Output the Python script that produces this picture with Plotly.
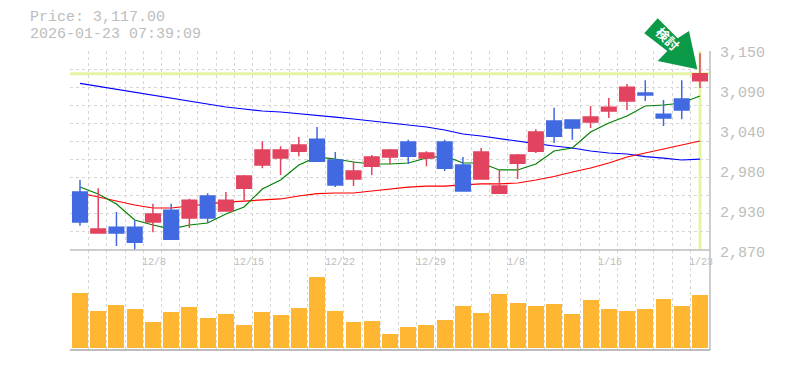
import plotly.graph_objects as go

W, H = 785, 370
L, R, T, B, MID = 70, 710, 51, 350, 250

# Candles
opens = [2951.6,2894,2902,2902,2909.4,2926,2915,2946,2925,2957,2989.6,2999.4,3009,3026,2996.6,2970,2988,3001,3022,2999.4,3022,2989.6,2970,2950,2992,3009,3051.5,3053,3050,3065.6,3079.6,3091,3061,3082.5,3108]
closes = [2909.4,2899.5,2894,2881,2920.6,2885,2940,2915,2940,2974,3010.7,3010.7,3017.7,2995,2961.5,2981,3001,3010.7,3002,3006.5,2985,2953,3008,2960,3003.7,3036,3030,3041.6,3057,3071,3099,3088,3055.7,3067,3118]
highs = [2968.5,2957,2923.5,2912,2935,2935,2942,2950,2951.6,2975.5,3023,3016,3029,3043,3008,2995,3003.7,3012,3025,3009,3025,3001,3013.5,2982.6,3005,3040,3070,3053,3072.6,3084,3103.6,3109,3081,3109,3147]
lows = [2904,2894,2875.6,2869,2895,2884.5,2901,2908,2925,2940,2985,2975.5,3002,2995,2958.6,2960,2975.5,2991,2991,2988,2981,2953,2970,2949,2970,3006.5,3020.5,3025,3041.6,3055.7,3067,3079.6,3044.5,3054,3098]

# Moving averages
ma_short = [2958.6,2948.8,2934.7,2912.2,2905.2,2899.5,2905.2,2908,2920.7,2930.5,2955.8,2968.5,2989.6,3000.9,2998,2993.8,2991,2991,2992.4,2999.4,3002.3,2992.4,2992.4,2982.6,2982.6,2991,3009.3,3013.5,3036,3048.7,3058.5,3072.6,3074,3076.8,3086.7]
ma_mid = [2950.2,2944.6,2938.9,2933.3,2929.1,2929.1,2931.9,2934.7,2937.5,2938.9,2940.4,2941.8,2946,2949.2,2950.2,2950.2,2953,2955.8,2958.6,2960,2960,2961.5,2962.9,2963.1,2964.3,2968.5,2973.4,2979.7,2985.4,2992.4,3000.9,3006.5,3012.1,3017.7,3023.4]
ma_long = [3104.5,3100.3,3095.5,3092.3,3087.1,3083.9,3079.6,3075.4,3071.2,3068.4,3065.6,3064.2,3062.1,3059.5,3057.1,3054.3,3051.5,3049.1,3045.9,3043.1,3038.8,3033.2,3030.4,3026.6,3022.4,3019.6,3016.3,3013.5,3009.3,3006.5,3005.1,3001.3,2999.4,2996.6,2998]

# Volume (relative)
volumes = [55,37,43,39,26,36,41,30,34,23,36,33,40,71,37,26,27,14,21,23,28,42,35,54,45,42,44,34,48,39,37,39,49,42,53]

# Labels
price_labels = ["3,150","3,090","3,040","2,980","2,930","2,870"]
date_labels = ["12/8","12/15","12/22","12/29","1/8","1/16","1/23"]
date_index = [4,9,14,19,24,29,34]
title_lines = ["Price: 3,117.00","2026-01-23 07:39:09"]
badge_text = "検討"
last_price = 3118

idx = list(range(len(opens)))
GRAY = "#bdbdbd"; GRID = "#d6d6d6"; LIME = "#e4f5a5"; MONO = "Liberation Mono"
DASH = "3px,3px"
def px(x): return (x-L)/(R-L)
def py(y): return (B-y)/(B-T)

fig = go.Figure()
for vals, col in [(ma_long,"#0000ff"),(ma_mid,"#ff0000"),(ma_short,"#008000")]:
    fig.add_trace(go.Scatter(x=idx,y=vals,mode="lines",line=dict(color=col,width=1.2),xaxis="x",yaxis="y",hoverinfo="skip",showlegend=False))
fig.add_trace(go.Bar(x=idx,y=volumes,marker=dict(color="#ffb733",line_width=0),width=0.875,xaxis="x2",yaxis="y2",showlegend=False))
fig.add_trace(go.Candlestick(x=idx,open=opens,high=highs,low=lows,close=closes,
    increasing=dict(line=dict(color="#e2435f",width=1.5),fillcolor="#e2435f"),
    decreasing=dict(line=dict(color="#4169e1",width=1.5),fillcolor="#4169e1"),
    whiskerwidth=0,xaxis="x3",yaxis="y3",showlegend=False))

xr = [-0.548,34.55]
grid_x = [i-0.53 for i in idx]
grid_y = [2870+i*280/11 for i in range(12)]
xbase = dict(range=xr,tickmode="array",tickvals=grid_x,showticklabels=False,ticks="",showgrid=True,gridcolor=GRID,griddash=DASH,gridwidth=1,zeroline=False)
fig.update_layout(
    width=W,height=H,autosize=False,paper_bgcolor="white",plot_bgcolor="white",showlegend=False,
    margin=dict(l=L,r=W-R,t=T,b=H-B),boxgap=0.2,boxgroupgap=0,bargap=0,
    xaxis=dict(**xbase,anchor="y"),
    xaxis2=dict(**xbase,anchor="y2"),
    xaxis3=dict(range=xr,overlaying="x",anchor="y3",visible=False,rangeslider=dict(visible=False)),
    yaxis=dict(domain=[py(MID),1],range=[2870,3150],tickmode="array",tickvals=grid_y,showticklabels=False,ticks="",gridcolor=GRID,griddash=DASH,zeroline=False,anchor="x"),
    yaxis2=dict(domain=[0,py(MID)],range=[-2,98],showgrid=False,showticklabels=False,ticks="",zeroline=False,anchor="x2"),
    yaxis3=dict(domain=[py(MID),1],range=[2870,3150],overlaying="y",anchor="x3",visible=False),
)
shapes = [
    dict(type="line",xref="x",yref="y domain",x0=idx[-1],x1=idx[-1],y0=0,y1=1,line=dict(color=LIME,width=3),layer="below"),
    dict(type="line",xref="paper",yref="y",x0=0,x1=1,y0=last_price,y1=last_price,line=dict(color=LIME,width=3),layer="below"),
    dict(type="line",xref="paper",yref="paper",x0=0,x1=1,y0=py(MID),y1=py(MID),line=dict(color=GRAY,width=1.5)),
    dict(type="line",xref="paper",yref="paper",x0=0,x1=1,y0=0,y1=0,line=dict(color=GRAY,width=2)),
    dict(type="line",xref="paper",yref="paper",x0=1,x1=1,y0=0,y1=1,line=dict(color=GRAY,width=1.5)),
]
arrow = [(644.3,33.3),(657.7,18.3),(677.7,38.3),(689,31),(697.3,69.3),(657.7,61),(667.3,51)]
path = "M "+" L ".join(f"{px(x):.4f},{py(y):.4f}" for x,y in arrow)+" Z"
shapes.append(dict(type="path",xref="paper",yref="paper",path=path,fillcolor="#0a9a48",line_width=0))
shapes.append(dict(type="rect",xref="paper",yref="paper",x0=px(656),x1=px(677),y0=py(50),y1=py(30),line_width=0,fillcolor="rgba(0,0,0,0)",
    label=dict(text=f"<b>{badge_text}</b>",textangle=45,textposition="middle center",font=dict(family="Noto Sans CJK JP",size=13,color="white"))))
fig.update_layout(shapes=shapes)

ann = []
for t,y in zip(title_lines,[17,34]):
    ann.append(dict(text=t,xref="paper",yref="paper",x=px(28),y=py(y),xanchor="left",yanchor="middle",showarrow=False,font=dict(family=MONO,size=15,color=GRAY)))
for t,y in zip(price_labels,[53,93,133,173,213,253]):
    ann.append(dict(text=t,xref="paper",yref="paper",x=px(718),y=py(y),xanchor="left",yanchor="middle",showarrow=False,font=dict(family=MONO,size=15,color=GRAY)))
for t,i in zip(date_labels,date_index):
    ann.append(dict(text=t,xref="x2",yref="paper",x=i-0.58,y=py(262),xanchor="left",yanchor="middle",xshift=-2,showarrow=False,font=dict(family=MONO,size=10,color=GRAY)))
fig.update_layout(annotations=ann)
fig.write_html("out.html",post_script="document.body.style.margin='0';",config=dict(displayModeBar=False))
